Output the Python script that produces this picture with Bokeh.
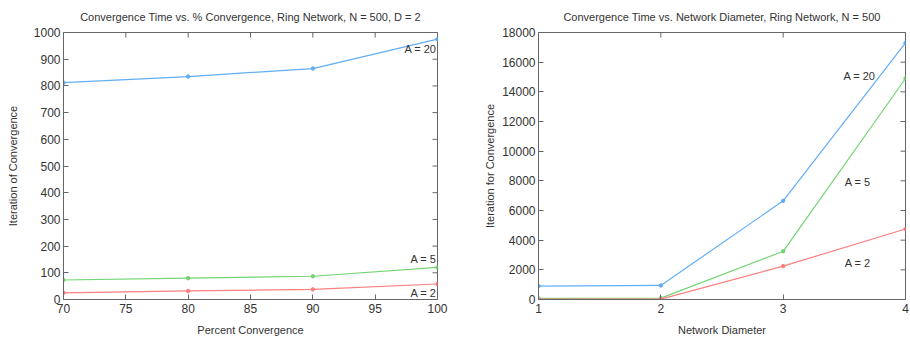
import math
from bokeh.plotting import figure
from bokeh.layouts import row
from bokeh.models import FixedTicker, Range1d
from bokeh.embed import file_html
from bokeh.resources import INLINE
from bokeh.core.properties import value

# ---- data: left chart ----
pct = [70, 80, 90, 100]
left_a20 = [812, 835, 865, 975]
left_a5 = [73, 80, 87, 120]
left_a2 = [25, 32, 38, 58]
left_xticks = [70, 75, 80, 85, 90, 95, 100]
left_yticks = [0, 100, 200, 300, 400, 500, 600, 700, 800, 900, 1000]

# ---- data: right chart ----
diam = [1, 2, 3, 4]
right_a20 = [900, 950, 6650, 17300]
right_a5 = [80, 90, 3250, 14900]
right_a2 = [20, 30, 2250, 4750]
right_xticks = [1, 2, 3, 4]
right_yticks = [0, 2000, 4000, 6000, 8000, 10000, 12000, 14000, 16000, 18000]

series_names = ["A = 20", "A = 5", "A = 2"]
# label anchor positions (annotations) for the right chart
right_label_x = [3.624, 3.61, 3.61]
right_label_y = [15100, 7955, 2460]

colors = ["#62aef5", "#74d474", "#ff7f7f"]
FONT = "Liberation Sans"
TXT = "#333333"
FRAME = "#666666"


def style(p, xticks, yticks, xlabel, ylabel, ylab_standoff):
    p.title.text_font = FONT
    p.title.text_font_size = "11px"
    p.title.text_font_style = "normal"
    p.title.text_color = TXT
    p.title.align = "center"
    p.title.vertical_align = "middle"
    p.title.offset = 0
    p.title.standoff = 17
    p.xgrid.visible = False
    p.ygrid.visible = False
    p.outline_line_color = FRAME
    p.outline_line_width = 1
    for ax, ticks, lab in ((p.xaxis[0], xticks, xlabel), (p.yaxis[0], yticks, ylabel)):
        ax.ticker = FixedTicker(ticks=ticks)
        ax.axis_label = lab
        ax.axis_label_text_font = FONT
        ax.axis_label_text_font_size = "11px"
        ax.axis_label_text_font_style = "normal"
        ax.axis_label_text_color = TXT
        ax.major_label_text_font = FONT
        ax.major_label_text_font_size = "12px"
        ax.major_label_text_color = TXT
        ax.axis_line_color = FRAME
        ax.major_tick_line_color = FRAME
        ax.major_tick_in = 5
        ax.major_tick_out = 0
        ax.minor_tick_line_color = None
        ax.major_label_standoff = 4
    p.yaxis[0].major_label_standoff = 3
    p.xaxis[0].axis_label_standoff = 8
    p.yaxis[0].axis_label_standoff = ylab_standoff
    # mirrored inward ticks on the top and right edges (half of each dash is clipped by the frame)
    xr, yr = p.x_range, p.y_range
    p.scatter(xticks, [yr.end] * len(xticks), marker="dash", size=10, angle=math.pi / 2,
              line_color=FRAME, line_width=1)
    p.scatter([xr.end] * len(yticks), yticks, marker="dash", size=10,
              line_color=FRAME, line_width=1)


# ---- left figure ----
p1 = figure(width=480, height=339, output_backend="svg", toolbar_location=None,
            title="Convergence Time vs. % Convergence, Ring Network, N = 500, D = 2",
            x_range=Range1d(70, 100), y_range=Range1d(0, 1000),
            min_border_left=63, min_border_right=43, min_border_top=32, min_border_bottom=40)
style(p1, left_xticks, left_yticks, "Percent Convergence", "Iteration of Convergence", 12)
left_series = [left_a20, left_a5, left_a2]
left_yoff = [10, -8, 9]
for ys, c, name, yo in zip(left_series, colors, series_names, left_yoff):
    p1.line(pct, ys, line_color=c, line_width=1.2)
    p1.scatter(pct, ys, marker="circle", size=3.5, fill_color=c, line_color=c)
    p1.text(x=[pct[-1]], y=[ys[-1]], text=[name], text_align="right", text_baseline="middle",
            x_offset=-1, y_offset=yo, text_font=value(FONT), text_font_size="11px",
            text_color=TXT)

# ---- right figure ----
p2 = figure(width=430, height=339, output_backend="svg", toolbar_location=None,
            title="Convergence Time vs. Network Diameter, Ring Network, N = 500",
            x_range=Range1d(1, 4), y_range=Range1d(0, 18000),
            min_border_left=58, min_border_right=5, min_border_top=32, min_border_bottom=40)
style(p2, right_xticks, right_yticks, "Network Diameter", "Iteration for Convergence", 3)
right_series = [right_a20, right_a5, right_a2]
for ys, c, name, lx, ly in zip(right_series, colors, series_names, right_label_x, right_label_y):
    p2.line(diam, ys, line_color=c, line_width=1.2)
    p2.scatter(diam, ys, marker="circle", size=3.5, fill_color=c, line_color=c)
    p2.text(x=[lx], y=[ly], text=[name], text_align="center", text_baseline="middle",
            text_font=value(FONT), text_font_size="11px", text_color=TXT)

layout = row(p1, p2)
open("out.html", "w").write(file_html(layout, INLINE))
